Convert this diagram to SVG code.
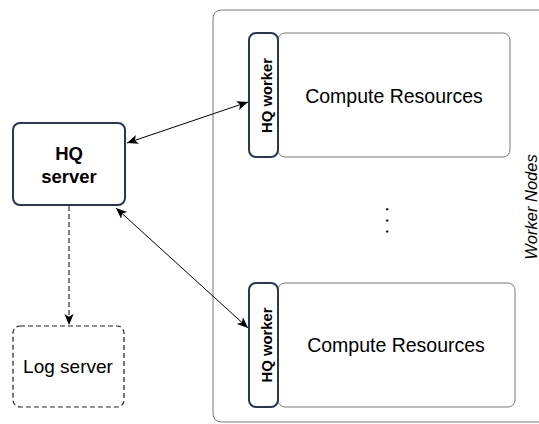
<svg xmlns="http://www.w3.org/2000/svg" width="539" height="424" viewBox="0 0 539 424">
<defs>
<style>
.bg{fill:#ffffff}
.container{fill:none;stroke:#7a7a7a;stroke-width:1}
.res{fill:#ffffff;stroke:#7a7a7a;stroke-width:1}
.hq{fill:#ffffff;stroke:#2b3653;stroke-width:2}
.log{fill:#ffffff;stroke:#222;stroke-width:1.2;stroke-dasharray:5 3}
.edge{fill:none;stroke:#000;stroke-width:1}
.dash{stroke-dasharray:5 3}
text{font-family:"Liberation Sans",Arial,sans-serif;fill:#000}
.b{font-weight:bold}
</style>
<marker id="ah" viewBox="0 0 10 10" refX="10" refY="5" markerWidth="11" markerHeight="11" markerUnits="userSpaceOnUse" orient="auto-start-reverse">
<path d="M0,0.8 L10,5 L0,9.2 L2.5,5 Z" fill="#000"/>
</marker>
</defs>
<rect class="bg" x="0" y="0" width="539" height="424"/>
<g id="worker-nodes">
<rect class="container" x="213" y="10" width="345" height="412" rx="8"/>
<text transform="translate(537,207) rotate(-90)" text-anchor="middle" font-size="16.5" font-style="italic">Worker Nodes</text>
</g>
<g id="compute1">
<rect class="res" x="278" y="33" width="232" height="124" rx="7"/>
<text x="394" y="103" text-anchor="middle" font-size="19.5">Compute Resources</text>
</g>
<g id="worker1">
<rect class="hq" x="249" y="33" width="29" height="124" rx="7"/>
<text transform="translate(271.5,95.5) rotate(-90)" text-anchor="middle" class="b" font-size="14.8">HQ worker</text>
</g>
<g id="compute2">
<rect class="res" x="278" y="283" width="237" height="124" rx="7"/>
<text x="396" y="352" text-anchor="middle" font-size="19.5">Compute Resources</text>
</g>
<g id="worker2">
<rect class="hq" x="249" y="283" width="29" height="124" rx="7"/>
<text transform="translate(271.5,345) rotate(-90)" text-anchor="middle" class="b" font-size="14.8">HQ worker</text>
</g>
<g id="ellipsis">
<text transform="translate(386,206.5) rotate(90)" font-size="20" letter-spacing="5.6">...</text>
</g>
<g id="hq-server">
<rect class="hq" x="13" y="123" width="112" height="82" rx="7"/>
<text x="69" y="160" text-anchor="middle" class="b" font-size="18.5">HQ</text>
<text x="69" y="183" text-anchor="middle" class="b" font-size="18.5">server</text>
</g>
<g id="log-server">
<rect class="log" x="13" y="326" width="111" height="81" rx="7"/>
<text x="68" y="373" text-anchor="middle" font-size="19">Log server</text>
</g>
<g id="connectors">
<line class="edge" x1="127" y1="143" x2="248" y2="102" marker-start="url(#ah)" marker-end="url(#ah)"/>
<line class="edge" x1="116" y1="208" x2="248" y2="328" marker-start="url(#ah)" marker-end="url(#ah)"/>
<line class="edge dash" x1="69" y1="206" x2="69" y2="325" marker-end="url(#ah)"/>
</g>
</svg>
